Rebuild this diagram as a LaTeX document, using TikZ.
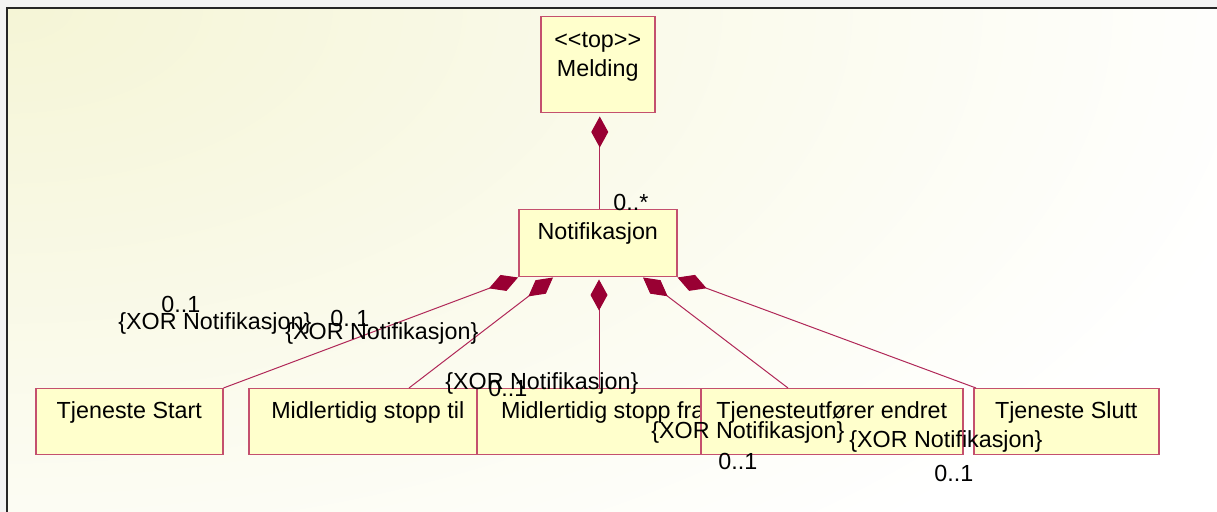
\documentclass[tikz,border=0pt]{standalone}
\usepackage{fontspec}
\setmainfont{Liberation Sans}
\usetikzlibrary{arrows.meta}
\definecolor{clsfill}{HTML}{FFFFCC}
\definecolor{clsline}{HTML}{C4506E}
\definecolor{assoc}{HTML}{B02858}
\definecolor{dia}{HTML}{990033}
\definecolor{bgtint}{HTML}{F5F5D6}
\definecolor{outer}{HTML}{F3F3F3}

\begin{document}
\begin{tikzpicture}[x=0.5pt, y=-0.5pt,
    font=\fontsize{11.65}{14.75}\selectfont,
    cls/.style={draw=clsline, fill=clsfill, line width=0.75pt, inner sep=0pt,
      anchor=north west, text height=14.75pt, text depth=18.25pt},
    comp/.style={draw=assoc, line width=0.5pt,
      -{Diamond[length=15.5pt, width=8.5pt, color=dia, fill=dia]}},
    lbl/.style={inner sep=0pt, anchor=base west}]
  \useasboundingbox (0,0) rectangle (1217,512);

  % Frame
  \fill[outer] (0,0) rectangle (1217,512);
  \begin{scope}
    \clip (7,8) rectangle (1217,512);
    \fill[white] (7,8) rectangle (1217,512);
    \shade[inner color=bgtint, outer color=white] (7,8) ellipse [x radius=1300, y radius=700];
  \end{scope}
  \draw[line width=0.75pt, black!85] (7,512) -- (7,8) -- (1217,8);

  % Classes
  \node[cls, minimum width=57pt, align=center, text height=30pt, text depth=18pt] (meld) at (540,16) {<{}<top>{}>\\Melding};
  \node[cls, minimum width=79pt, text depth=18.75pt] (notif) at (518,209) {Notifikasjon};
  \node[cls, minimum width=93.5pt] (start) at (35,388) {Tjeneste Start};
  \node[cls, minimum width=119pt] (til) at (248,388) {Midlertidig stopp til};
  \node[cls, minimum width=126pt] (fra) at (476,388) {Midlertidig stopp fra};
  \node[cls, minimum width=131pt] (tje) at (700,388) {Tjenesteutfører endret};
  \node[cls, minimum width=92.5pt] (slutt) at (973,388) {Tjeneste Slutt};

  % Aggregations
  \draw[comp, shorten >=1.5pt] ([xshift=1pt]notif.north) -- ([xshift=1pt]meld.south);
  \draw[comp] (start.north east) -- (notif.south west);
  \draw[comp] ([xshift=80.5pt]til.north west) -- ([xshift=17.5pt]notif.south west);
  \draw[comp, shorten >=1pt] ([xshift=61.5pt]fra.north west) -- ([xshift=40.5pt]notif.south west);
  \draw[comp] ([xshift=44pt]tje.north west) -- ([xshift=62.5pt]notif.south west);
  \draw[comp] ([xshift=1.5pt]slutt.north west) -- (notif.south east);

  % Multiplicities and constraints
  \node[lbl] (mNotif) at (613,211) {0..*};
  \node[lbl] (mStart) at (161,313) {0..1};
  \node[lbl] (xStart) at (118,330) {\{XOR Notifikasjon\}};
  \node[lbl] (mTil) at (330,327) {0..1};
  \node[lbl] (xTil) at (285,340) {\{XOR Notifikasjon\}};
  \node[lbl] (xFra) at (445,390) {\{XOR Notifikasjon\}};
  \node[lbl] (mFra) at (488,397) {0..1};
  \node[lbl] (xTje) at (651,439) {\{XOR Notifikasjon\}};
  \node[lbl] (mTje) at (718,470) {0..1};
  \node[lbl] (xSlutt) at (849,448) {\{XOR Notifikasjon\}};
  \node[lbl] (mSlutt) at (934,482) {0..1};
\end{tikzpicture}
\end{document}
